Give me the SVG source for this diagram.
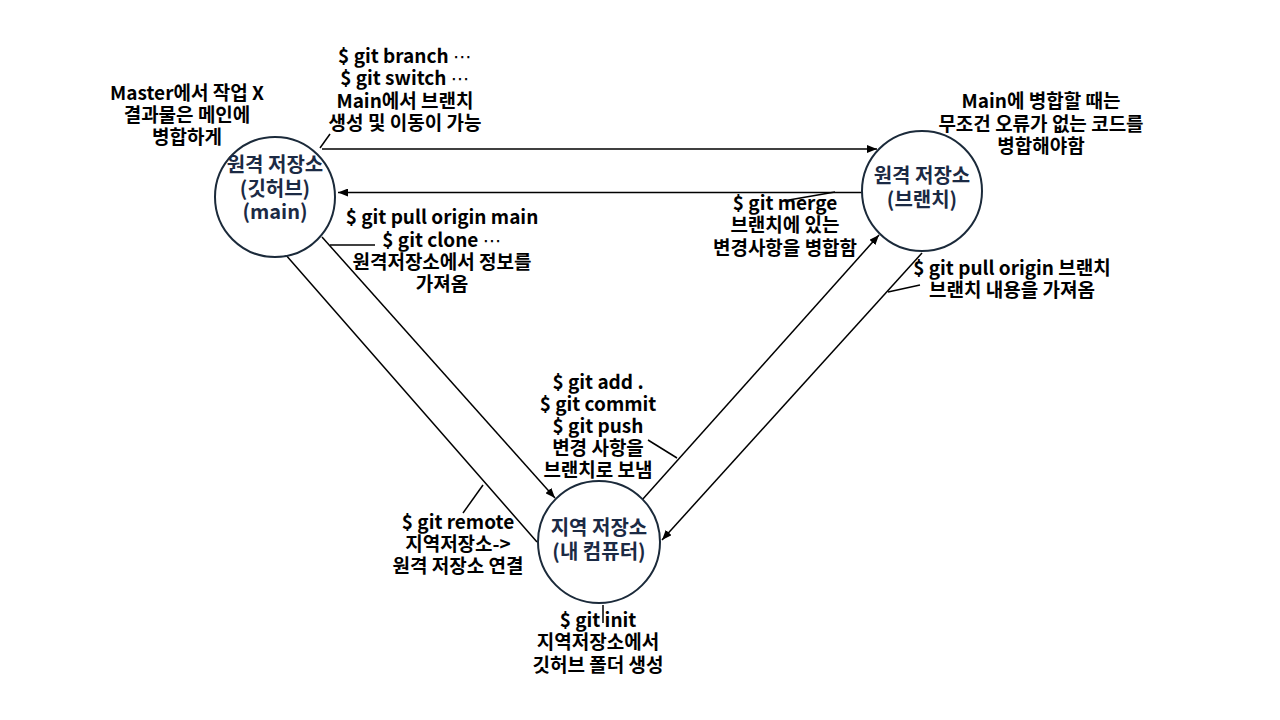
<svg xmlns="http://www.w3.org/2000/svg" width="1280" height="720" viewBox="0 0 1280 720">
<defs>
<marker id="arr" viewBox="0 0 10 8" refX="10" refY="4" markerWidth="10" markerHeight="8" markerUnits="userSpaceOnUse" orient="auto">
<path d="M0,0 L10,4 L0,8 z" fill="#000"/>
</marker>
<style>
.node circle{fill:#fff;stroke:#1b2a3a;stroke-width:2}
.nt{font-family:"Noto Sans CJK KR","Noto Sans",sans-serif;font-weight:bold;font-size:20px;fill:#1b2a44;text-anchor:middle}
.lb{font-family:"Noto Sans CJK KR","Noto Sans",sans-serif;font-weight:bold;font-size:19px;fill:#000;text-anchor:middle}
.el{font-family:"DejaVu Sans",sans-serif;font-weight:normal}
.conn line{stroke:#000;stroke-width:1.5}
.lead line{stroke:#000;stroke-width:1.5}
</style>
</defs>
<rect width="1280" height="720" fill="#fff"/>
<g id="connectors" class="conn">
<line x1="322" y1="149" x2="877" y2="149" marker-end="url(#arr)"/>
<line x1="862" y1="192.5" x2="338" y2="192.5" marker-end="url(#arr)"/>
<line x1="322" y1="237" x2="555" y2="498" marker-end="url(#arr)"/>
<line x1="537" y1="542" x2="278" y2="246" marker-end="url(#arr)"/>
<line x1="642" y1="500" x2="879" y2="235" marker-end="url(#arr)"/>
<line x1="922" y1="253" x2="662" y2="540" marker-end="url(#arr)"/>
</g>
<g id="leaders" class="lead">
<line x1="320" y1="148" x2="330" y2="134"/>
<line x1="330" y1="245" x2="375" y2="245"/>
<line x1="835" y1="192" x2="783" y2="201"/>
<line x1="888" y1="292" x2="920" y2="285"/>
<line x1="648" y1="440" x2="677" y2="458"/>
<line x1="463" y1="513" x2="483" y2="485"/>
<line x1="603" y1="605" x2="603" y2="623"/>
</g>
<g id="node-main" class="node">
<circle cx="275" cy="197" r="60"/>
<text class="nt"><tspan x="275" y="172">원격 저장소</tspan><tspan x="275" y="196">(깃허브)</tspan><tspan x="275" y="219">(main)</tspan></text>
</g>
<g id="node-branch" class="node">
<circle cx="922" cy="191" r="60"/>
<text class="nt"><tspan x="922" y="183">원격 저장소</tspan><tspan x="922" y="207">(브랜치)</tspan></text>
</g>
<g id="node-local" class="node">
<circle cx="599" cy="542" r="61"/>
<text class="nt"><tspan x="599" y="535">지역 저장소</tspan><tspan x="599" y="559">(내 컴퓨터)</tspan></text>
</g>
<g id="labels">
<text class="lb"><tspan x="405" y="63">$ git branch <tspan class="el">⋯</tspan></tspan><tspan x="405" y="85">$ git switch <tspan class="el">⋯</tspan></tspan><tspan x="405" y="108">Main에서 브랜치</tspan><tspan x="405" y="130">생성 및 이동이 가능</tspan></text>
<text class="lb"><tspan x="187" y="100">Master에서 작업 X</tspan><tspan x="187" y="122">결과물은 메인에</tspan><tspan x="187" y="144">병합하게</tspan></text>
<text class="lb"><tspan x="1041" y="108">Main에 병합할 때는</tspan><tspan x="1041" y="131">무조건 오류가 없는 코드를</tspan><tspan x="1041" y="153">병합해야함</tspan></text>
<text class="lb"><tspan x="785" y="210">$ git merge</tspan><tspan x="785" y="232">브랜치에 있는</tspan><tspan x="785" y="255">변경사항을 병합함</tspan></text>
<text class="lb"><tspan x="1012" y="275">$ git pull origin 브랜치</tspan><tspan x="1012" y="297">브랜치 내용을 가져옴</tspan></text>
<text class="lb"><tspan x="442" y="224">$ git pull origin main</tspan><tspan x="442" y="246.5">$ git clone <tspan class="el">⋯</tspan></tspan><tspan x="442" y="269">원격저장소에서 정보를</tspan><tspan x="442" y="291">가져옴</tspan></text>
<text class="lb"><tspan x="598" y="389">$ git add .</tspan><tspan x="598" y="411">$ git commit</tspan><tspan x="598" y="433">$ git push</tspan><tspan x="598" y="455">변경 사항을</tspan><tspan x="598" y="477">브랜치로 보냄</tspan></text>
<text class="lb"><tspan x="458" y="529">$ git remote</tspan><tspan x="458" y="551">지역저장소-&gt;</tspan><tspan x="458" y="573">원격 저장소 연결</tspan></text>
<text class="lb"><tspan x="598" y="627">$ git init</tspan><tspan x="598" y="649">지역저장소에서</tspan><tspan x="598" y="672">깃허브 폴더 생성</tspan></text>
</g>
</svg>
